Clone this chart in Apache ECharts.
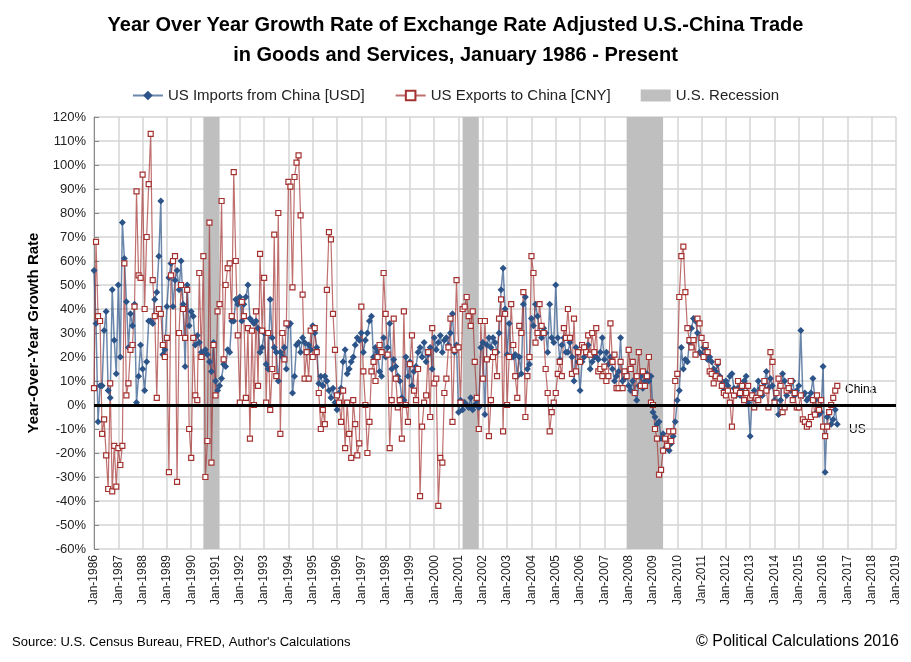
<!DOCTYPE html>
<html>
<head>
<meta charset="utf-8">
<script src="https://cdn.jsdelivr.net/npm/echarts@6/dist/echarts.min.js"></script>
<style>
html, body { margin: 0; padding: 0; background: #fff; }
#main { width: 911px; height: 662px; }
</style>
</head>
<body>
<div id="main"></div>
<script>
// monthly YoY growth rates (%), Jan-1986 .. Aug-2016
var usImports = [
  56,34,-7,8,8,31,39,6,3,48,27,13,
  50,20,76,61,43,24,38,33,42,1,12,25,
  15,6,18,35,35,34,44,47,62,85,21,23,
  41,53,59,41,52,56,48,60,42,16,50,33,
  39,37,25,29,26,22,21,23,21,18,14,26,
  10,6,8,11,17,16,23,22,35,35,44,42,
  45,35,42,45,50,36,35,34,35,32,22,24,
  30,17,15,44,28,24,22,10,22,20,24,15,
  33,34,5,12,25,26,22,28,26,22,25,23,
  33,30,24,9,12,8,12,10,6,3,7,1,
  -2,5,7,18,23,13,15,18,20,25,28,27,
  30,22,27,30,35,37,20,24,22,14,12,28,
  20,24,34,15,19,16,12,10,3,2,20,12,
  18,8,14,16,22,24,20,26,18,21,24,15,
  28,23,26,29,22,27,28,25,30,38,22,25,
  -3,2,-2,1,0,-1,3,-2,0,2,-1,24,
  26,-4,25,28,24,28,26,22,30,48,57,40,
  21,34,20,20,21,12,20,13,42,45,15,17,
  36,33,42,37,30,28,32,30,22,42,28,26,
  50,28,19,25,28,22,22,26,20,10,24,18,
  6,18,20,22,25,15,18,20,20,19,22,28,
  19,22,17,20,15,10,12,14,28,10,11,14,
  8,6,10,5,2,8,12,7,10,13,10,12,
  -3,-5,-8,-7,-14,-12,-18,-17,-19,-16,-13,-7,
  2,6,24,15,19,18,26,32,36,35,30,22,
  21,24,24,19,20,18,15,14,17,12,10,6,
  10,8,12,13,7,4,7,4,6,10,12,1,
  -13,4,6,2,10,7,4,9,14,7,11,8,
  2,5,-4,2,13,10,4,7,6,10,4,6,
  8,31,4,5,2,3,5,11,2,-3,-4,-3,
  16,-28,-5,-3,-8,-6,-2,-8
];
var usExports = [
  7,68,37,35,-12,-6,-21,-35,9,-36,-17,-34,
  -18,-25,-17,59,4,9,23,25,41,89,54,53,
  96,40,70,92,113,52,37,3,40,38,25,20,
  28,-28,54,60,62,-32,30,50,40,28,48,-10,
  -22,28,4,2,55,20,62,-30,-15,76,-24,25,
  4,39,42,85,19,50,57,59,37,97,60,29,
  1,43,37,3,32,-14,31,0,39,8,63,31,
  53,1,30,-2,15,71,12,80,-12,30,19,34,
  93,91,49,95,101,104,79,46,11,22,11,31,
  20,32,22,5,-10,-2,-8,48,72,69,38,23,
  4,1,-7,6,-18,1,-12,-22,2,-8,-21,-16,
  41,14,0,-20,-7,14,18,10,20,25,22,55,
  38,21,-18,2,36,11,-1,2,-14,39,0,-7,
  17,29,6,2,15,-38,-9,1,4,22,-5,32,
  9,11,-42,-22,-24,5,11,24,36,-7,23,52,
  24,1,40,41,45,37,33,39,18,3,-10,35,
  11,35,19,-13,2,20,22,12,36,44,-11,38,
  0,20,42,25,12,3,33,30,47,-5,12,20,
  62,55,26,30,42,33,30,15,5,-11,-3,1,
  5,13,18,12,32,28,40,28,13,36,14,22,
  18,25,24,22,29,21,30,22,32,14,15,12,
  16,10,12,34,18,21,7,7,18,7,14,12,
  23,15,18,5,12,22,8,14,8,12,20,1,
  0,-10,-14,-29,-27,-19,-14,-17,-11,-15,-11,10,
  13,45,62,66,47,32,27,24,27,21,36,34,
  28,20,25,22,14,13,9,12,18,11,8,5,
  4,6,1,-9,4,6,10,5,8,2,5,8,
  3,4,-1,3,2,5,7,10,6,-1,22,18,
  1,5,11,8,-3,-1,6,7,10,2,5,-1,
  -1,4,-6,-7,-9,-8,-5,2,-4,4,-2,2,
  -9,-13,-9,-3,0,3,6,8
];
var recessions = [['Jul-1990', 'Mar-1991'], ['Mar-2001', 'Nov-2001'], ['Dec-2007', 'Jun-2009']];
var monthNames = ['Jan','Feb','Mar','Apr','May','Jun','Jul','Aug','Sep','Oct','Nov','Dec'];
var firstYear = 1986, lastYear = 2019;

var months = [];
for (var y = firstYear; y <= lastYear; y++) {
  for (var m = 0; m < 12; m++) {
    months.push(monthNames[m] + '-' + y);
    if (y === lastYear) break;
  }
}

var chart = echarts.init(document.getElementById('main'));
var font = 'Liberation Sans, Arial, sans-serif';

var option = {
  backgroundColor: '#ffffff',
  animation: false,
  textStyle: { fontFamily: font },
  title: {
    text: 'Year Over Year Growth Rate of Exchange Rate Adjusted U.S.-China Trade\nin Goods and Services, January 1986 - Present',
    left: 'center', top: 5,
    textStyle: { fontSize: 20, fontWeight: 'bold', color: '#000', lineHeight: 30, fontFamily: font }
  },
  legend: {
    top: 83, left: 'center', itemGap: 30, itemWidth: 30, itemHeight: 12,
    textStyle: { fontSize: 15, color: '#222', fontFamily: font },
    data: [
      { name: 'US Imports from China [USD]' },
      { name: 'US Exports to China [CNY]' },
      { name: 'U.S. Recession', icon: 'rect' }
    ]
  },
  grid: { left: 94, right: 15, top: 117, bottom: 113 },
  xAxis: {
    type: 'category', data: months, boundaryGap: false,
    axisLine: { show: false }, axisTick: { show: false },
    axisLabel: { interval: 11, rotate: 90, fontSize: 12, color: '#222', margin: 6 },
    splitLine: { show: true, interval: 11, lineStyle: { color: '#d4d4d4', width: 1.5 } }
  },
  yAxis: {
    type: 'value', min: -60, max: 120, interval: 10,
    name: 'Year-Over-Year Growth Rate', nameLocation: 'middle', nameGap: 52,
    nameTextStyle: { fontSize: 15, fontWeight: 'bold', color: '#000' },
    axisLine: { show: true, lineStyle: { color: '#888' } },
    axisTick: { show: true, inside: true, lineStyle: { color: '#888' } },
    axisLabel: { formatter: '{value}%', fontSize: 13, color: '#222' },
    splitLine: { lineStyle: { color: '#d4d4d4', width: 1.5 } }
  },
  series: [{
    name: 'U.S. Recession', type: 'line', data: [], color: '#bfbfbf',
    markArea: {
      silent: true, itemStyle: { color: '#bfbfbf' },
      data: recessions.map(function (r) { return [{ xAxis: r[0] }, { xAxis: r[1] }]; })
    },
    markLine: {
      silent: true, symbol: 'none', label: { show: false },
      lineStyle: { color: '#000', width: 3, type: 'solid' },
      data: [{ yAxis: 0 }]
    }
  }, {
    name: 'US Imports from China [USD]', type: 'line', data: usImports,
    color: '#2c5489', symbol: 'diamond', symbolSize: 7, showAllSymbol: true,
    lineStyle: { color: '#2c5489', width: 1.5, opacity: 0.7 },
    itemStyle: { color: '#2c5489' }
  }, {
    name: 'US Exports to China [CNY]', type: 'line', data: usExports,
    color: '#a33230', symbol: 'rect', symbolSize: 5, showAllSymbol: true,
    lineStyle: { color: '#a33230', width: 1.2, opacity: 0.7 },
    itemStyle: { color: '#ffffff', borderColor: '#a33230', borderWidth: 1.2 }
  }],
  graphic: [
    { type: 'text', left: 845, top: 384, style: { text: 'China', fontSize: 12, fill: '#000', fontFamily: font } },
    { type: 'text', left: 849, top: 424, style: { text: 'US', fontSize: 12, fill: '#000', fontFamily: font } },
    { type: 'text', left: 12, top: 636, style: { text: 'Source: U.S. Census Bureau, FRED, Author\'s Calculations', fontSize: 13, fill: '#000', fontFamily: font } },
    { type: 'text', right: 12, top: 634, style: { text: '© Political Calculations 2016', fontSize: 16, fill: '#000', fontFamily: font } }
  ]
};
chart.setOption(option);
</script>
</body>
</html>
